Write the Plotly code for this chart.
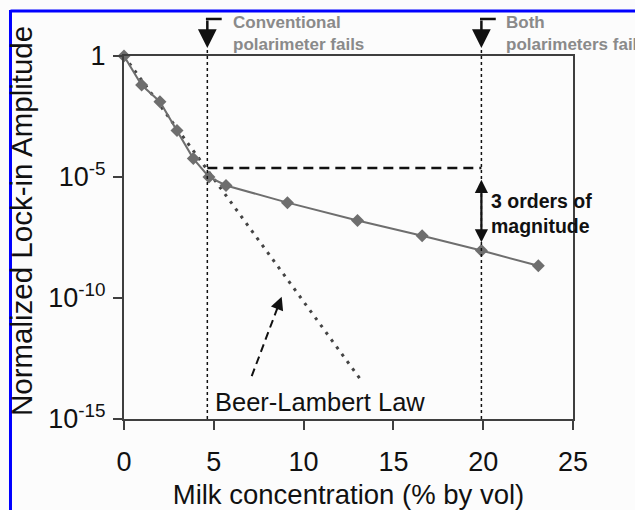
import plotly.graph_objects as go

# ---- data ----
milk_pct = [0, 0.98, 2.0, 2.95, 3.86, 4.73, 5.68, 9.1, 13.0, 16.6, 19.9, 23.07]
amplitude_log10 = [0, -1.2, -1.89, -3.08, -4.24, -5.0, -5.35, -6.06, -6.8, -7.43, -8.04, -8.67]
amplitude = [10 ** v for v in amplitude_log10]

beer_lambert_x = [0, 13.3]
beer_lambert_y = [1, 10 ** -13.5]

conv_fail_x = 4.64
both_fail_x = 19.9
ref_level_x = [4.64, 19.9]
ref_level_y = [10 ** -4.63, 10 ** -4.63]

beer_arrow_x = [7.11, 8.6]
beer_arrow_y = [10 ** -13.23, 10 ** -10.3]
beer_arrow_head = (8.78, -9.95)  # (x, log10 y)

mag_arrow_top = -5.05
mag_arrow_bottom = -7.7

y_tickvals = [1, 1e-5, 1e-10, 1e-15]
y_ticktext = ["1", "10<sup>-5</sup>", "10<sup>-10</sup>", "10<sup>-15</sup>"]
x_tickvals = [0, 5, 10, 15, 20, 25]

FONT = "Liberation Sans, Arial, sans-serif"
GRAY = "#6e6e6e"
AXIS = "#3f3f3f"

fig = go.Figure()

# Beer-Lambert dotted line
fig.add_trace(go.Scatter(
    x=beer_lambert_x, y=beer_lambert_y, mode="lines",
    line=dict(color="#444444", width=3, dash="3px,6px"),
    hoverinfo="skip", showlegend=False))

# horizontal dashed reference
fig.add_trace(go.Scatter(
    x=ref_level_x, y=ref_level_y, mode="lines",
    line=dict(color="#111111", width=2.5, dash="10px,6px"),
    hoverinfo="skip", showlegend=False))

# dashed arrow shaft for Beer-Lambert label
fig.add_trace(go.Scatter(
    x=beer_arrow_x, y=beer_arrow_y, mode="lines",
    line=dict(color="#111111", width=2, dash="8px,5px"),
    hoverinfo="skip", showlegend=False))

# measured data
fig.add_trace(go.Scatter(
    x=milk_pct, y=amplitude, mode="lines+markers",
    line=dict(color=GRAY, width=2),
    marker=dict(symbol="diamond", size=10, color=GRAY),
    cliponaxis=False, showlegend=False))

shapes = []
# vertical dotted lines (extend slightly above the plot to the arrow tips)
for xv in (conv_fail_x, both_fail_x):
    shapes.append(dict(type="line", xref="x", yref="paper", x0=xv, x1=xv,
                       y0=0, y1=1.022, line=dict(color="#111111", width=1.5, dash="dot")))
# horizontal parts of the bent arrows
for xv in (conv_fail_x, both_fail_x):
    shapes.append(dict(type="line", xref="x", yref="paper", x0=xv - 0.08, x1=xv + 0.8,
                       y0=1.102, y1=1.102, line=dict(color="#111111", width=2.5)))
# blue frame (left & top)
shapes.append(dict(type="line", xref="paper", yref="paper", x0=-0.2528, x1=-0.2528,
                   y0=-0.3, y1=1.127, line=dict(color="#0000ff", width=3)))
shapes.append(dict(type="line", xref="paper", yref="paper", x0=-0.2528, x1=1.2,
                   y0=1.124, y1=1.124, line=dict(color="#0000ff", width=3)))

annotations = []
# bent-arrow vertical parts with heads
for xv in (conv_fail_x, both_fail_x):
    annotations.append(dict(xref="x", yref="paper", x=xv, y=1.022, ax=0, ay=-29,
                            showarrow=True, arrowhead=2, arrowsize=1.5, arrowwidth=2.5,
                            arrowcolor="#111111", text=""))
annotations.append(dict(xref="x", yref="paper", x=5.95, y=1.123, xanchor="left", yanchor="top",
                        text="<b>Conventional<br>polarimeter fails</b>", showarrow=False, align="left",
                        font=dict(family=FONT, size=17, color="#8a8a8a")))
annotations.append(dict(xref="x", yref="paper", x=21.15, y=1.123, xanchor="left", yanchor="top",
                        text="<b>Both<br>polarimeters fails</b>", showarrow=False, align="left",
                        font=dict(family=FONT, size=17, color="#8a8a8a")))
# double arrow: 3 orders of magnitude
annotations.append(dict(xref="x", yref="y", x=both_fail_x, y=mag_arrow_bottom,
                        axref="x", ayref="y", ax=both_fail_x, ay=mag_arrow_top,
                        showarrow=True, arrowhead=2, startarrowhead=2, arrowside="end+start",
                        arrowsize=1.2, startarrowsize=1.2, arrowwidth=2.2, arrowcolor="#111111", text=""))
annotations.append(dict(xref="x", yref="y", x=20.35, y=-6.5, xanchor="left", yanchor="middle",
                        text="<b>3 orders of<br>magnitude</b>", showarrow=False, align="left",
                        font=dict(family=FONT, size=19.5, color="#111111")))
# Beer-Lambert arrow head and label
annotations.append(dict(xref="x", yref="y", x=beer_arrow_head[0], y=beer_arrow_head[1],
                        ax=-5, ay=13, showarrow=True, arrowhead=2, arrowsize=1.3, arrowwidth=2,
                        arrowcolor="#111111", text=""))
annotations.append(dict(xref="x", yref="y", x=4.98, y=-14.3, xanchor="left", yanchor="middle",
                        text="Beer-Lambert Law", showarrow=False,
                        font=dict(family=FONT, size=25.5, color="#111111")))
# y-axis title (placed as rotated text so it can sit slightly above centre like the original)
annotations.append(dict(xref="paper", yref="paper", x=-0.227, y=0.5455, xanchor="center", yanchor="middle",
                        text="Normalized Lock-in Amplitude", textangle=-90, showarrow=False,
                        font=dict(family=FONT, size=29.5, color="#111111")))

fig.update_layout(
    width=635, height=510,
    margin=dict(l=124, r=62, t=56, b=91, autoexpand=False),
    paper_bgcolor="#fcfcfc", plot_bgcolor="#fcfcfc",
    font=dict(family=FONT, color="#111111"),
    shapes=shapes, annotations=annotations,
    showlegend=False,
)
fig.update_xaxes(
    range=[0, 25], tickvals=x_tickvals, showgrid=False, zeroline=False, automargin=False,
    showline=True, linecolor=AXIS, linewidth=2, mirror=True,
    ticks="outside", ticklen=9, tickwidth=2, tickcolor=AXIS,
    tickfont=dict(size=27, family=FONT, color="#111111"), ticklabelstandoff=9,
    title=dict(text="Milk concentration (% by vol)", font=dict(size=27.5, family=FONT, color="#111111"), standoff=8),
)
fig.update_yaxes(
    type="log", range=[-15, 0], tickvals=y_tickvals, ticktext=y_ticktext,
    showgrid=False, zeroline=False, automargin=False,
    showline=True, linecolor=AXIS, linewidth=2, mirror=True,
    ticks="outside", ticklen=9, tickwidth=2, tickcolor=AXIS,
    tickfont=dict(size=27, family=FONT, color="#111111"), ticklabelstandoff=2,
)

# remove the default page margin so the 635x510 figure fills the window exactly
fig.write_html(
    "out.html",
    config={"displayModeBar": False},
    post_script="document.body.style.margin='0';document.body.style.overflow='hidden';",
)
